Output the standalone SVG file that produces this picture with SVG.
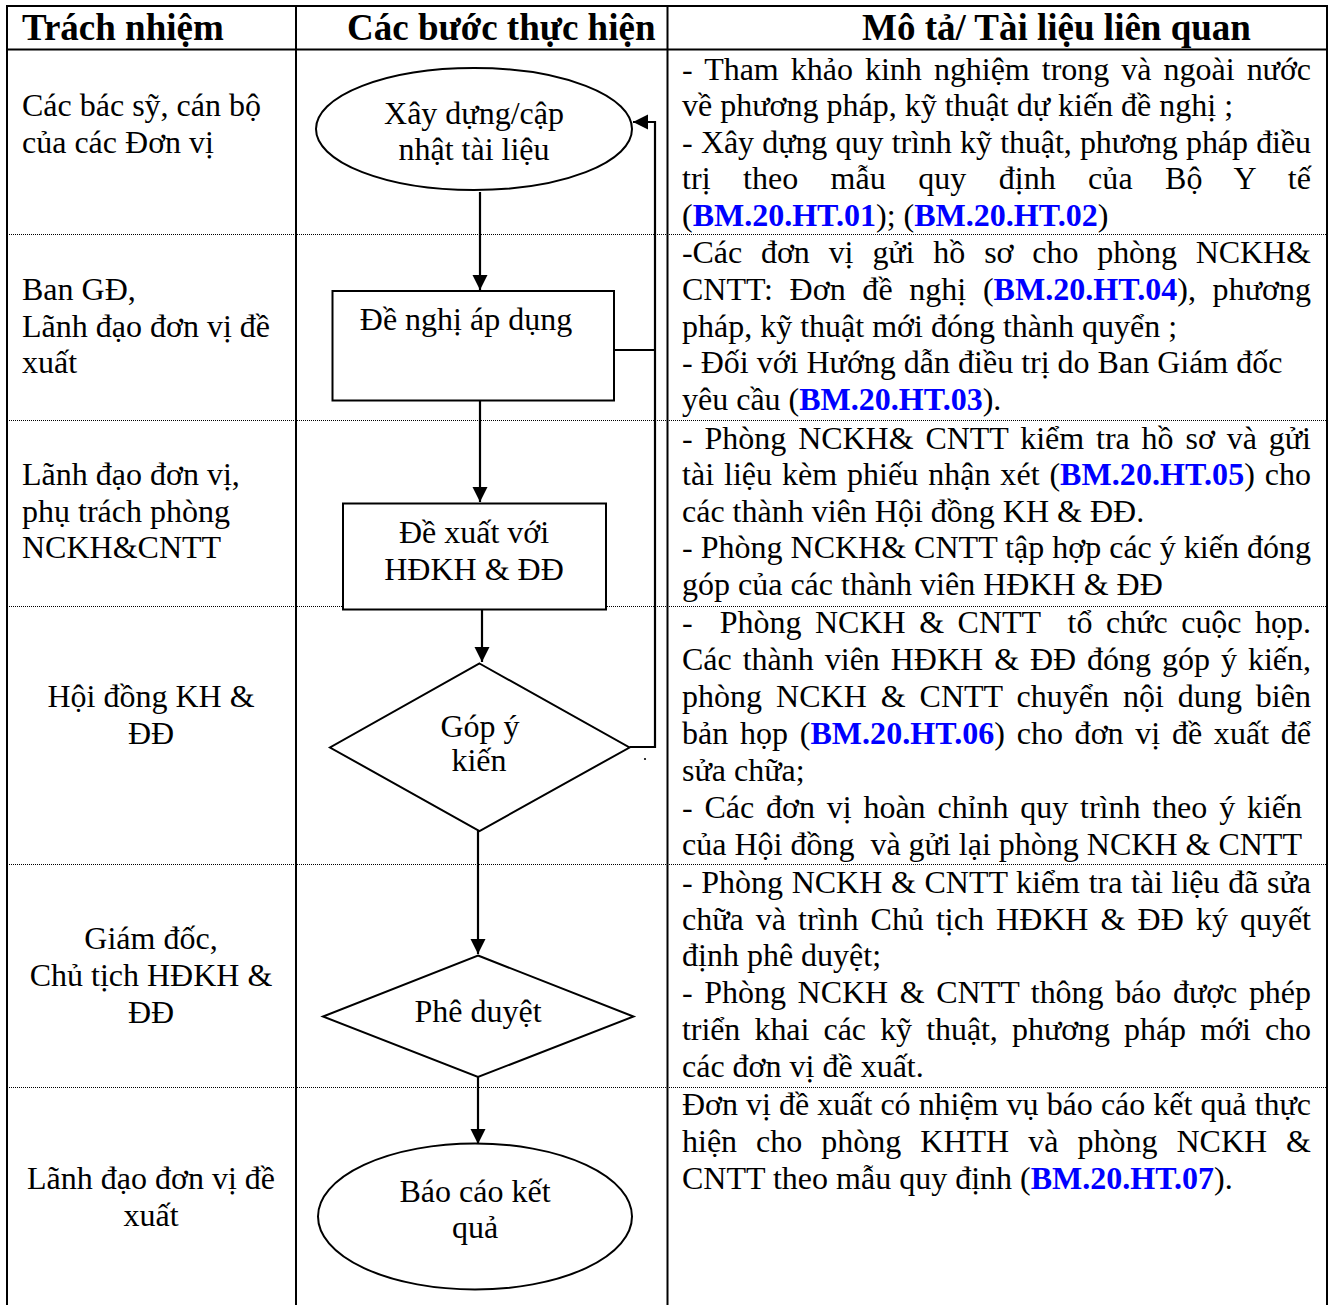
<svg xmlns="http://www.w3.org/2000/svg" width="1332" height="1305" viewBox="0 0 1332 1305">
<style>
text { font-family: "Liberation Serif", "Times New Roman", serif; font-size: 32px; fill: #000; }
.h { font-weight: bold; font-size: 37px; }
.c { text-anchor: middle; }
.code { font-weight: bold; fill: #0000ff; }
.grid { stroke: #000; stroke-width: 2; fill: none; }
.dotted { stroke: #000; stroke-width: 1; stroke-dasharray: 1 1; fill: none; }
.shape { fill: #fff; stroke: #000; stroke-width: 2; }
.conn { stroke: #000; stroke-width: 2.2; fill: none; }
</style>
<defs>
<marker id="ah" markerUnits="userSpaceOnUse" markerWidth="16" markerHeight="16" refX="15" refY="7.5" orient="auto">
<path d="M0,0 L15,7.5 L0,15 z" fill="#000"/>
</marker>
</defs>
<rect width="1332" height="1305" fill="#fff"/>

<g id="table">
<line class="grid" x1="6" y1="6" x2="1328" y2="6"/>
<line class="grid" x1="7" y1="5" x2="7" y2="1305"/>
<line class="grid" x1="1327" y1="5" x2="1327" y2="1305"/>
<line class="grid" x1="296" y1="6" x2="296" y2="1305"/>
<line class="grid" x1="667.5" y1="6" x2="667.5" y2="1305"/>
<line class="grid" x1="7" y1="49.5" x2="1327" y2="49.5"/>
<line class="dotted" x1="7" y1="234.5" x2="1327" y2="234.5"/>
<line class="dotted" x1="7" y1="420.5" x2="1327" y2="420.5"/>
<line class="dotted" x1="7" y1="606.5" x2="1327" y2="606.5"/>
<line class="dotted" x1="7" y1="864.5" x2="1327" y2="864.5"/>
<line class="dotted" x1="7" y1="1087.5" x2="1327" y2="1087.5"/>
</g>

<g id="header">
<text class="h" x="22" y="40">Trách nhiệm</text>
<text class="h" x="347" y="40">Các bước thực hiện</text>
<text class="h" x="862" y="40">Mô tả/ Tài liệu liên quan</text>
</g>

<g id="responsibility">
<text x="22" y="116">Các bác sỹ, cán bộ</text>
<text x="22" y="152.5">của các Đơn vị</text>
<text x="22" y="300">Ban GĐ,</text>
<text x="22" y="336.5">Lãnh đạo đơn vị đề</text>
<text x="22" y="373">xuất</text>
<text x="22" y="485">Lãnh đạo đơn vị,</text>
<text x="22" y="521.5">phụ trách phòng</text>
<text x="22" y="558">NCKH&amp;CNTT</text>
<text class="c" x="151" y="707">Hội đồng KH &amp;</text>
<text class="c" x="151" y="744">ĐĐ</text>
<text class="c" x="151" y="949">Giám đốc,</text>
<text class="c" x="151" y="986">Chủ tịch HĐKH &amp;</text>
<text class="c" x="151" y="1022.5">ĐĐ</text>
<text class="c" x="151" y="1189">Lãnh đạo đơn vị đề</text>
<text class="c" x="151" y="1226">xuất</text>
</g>

<g id="connectors">
<line class="conn" x1="480" y1="192" x2="480" y2="290" marker-end="url(#ah)"/>
<line class="conn" x1="480" y1="401" x2="480" y2="502" marker-end="url(#ah)"/>
<line class="conn" x1="482" y1="609" x2="482" y2="662" marker-end="url(#ah)"/>
<line class="conn" x1="478" y1="831" x2="478" y2="954" marker-end="url(#ah)"/>
<line class="conn" x1="478" y1="1077" x2="478" y2="1144" marker-end="url(#ah)"/>
<line class="conn" x1="614" y1="350" x2="655" y2="350"/>
<polyline class="conn" points="629.5,747 655,747 655,122 633,122" marker-end="url(#ah)"/>
<circle cx="645" cy="759" r="1.1" fill="#000"/>
</g>

<g id="node-xay-dung">
<ellipse class="shape" cx="474" cy="129" rx="158" ry="61"/>
<text class="c" x="474" y="124">Xây dựng/cập</text>
<text class="c" x="474" y="160">nhật tài liệu</text>
</g>

<g id="node-de-nghi">
<rect class="shape" x="332.5" y="291" width="281.5" height="109.5"/>
<text class="c" x="466" y="330">Đề nghị áp dụng</text>
</g>

<g id="node-de-xuat">
<rect class="shape" x="343" y="503.5" width="263" height="106"/>
<text class="c" x="474" y="542.5">Đề xuất với</text>
<text class="c" x="474" y="580">HĐKH &amp; ĐĐ</text>
</g>

<g id="node-gop-y">
<polygon class="shape" points="479.5,663.5 629.5,747.5 479.5,831 330,747.5"/>
<text class="c" x="480" y="737">Góp ý</text>
<text class="c" x="479" y="771">kiến</text>
</g>

<g id="node-phe-duyet">
<polygon class="shape" points="478,955.5 633.5,1016.5 478,1077 323,1016.5"/>
<text class="c" x="478" y="1022">Phê duyệt</text>
</g>

<g id="node-bao-cao">
<ellipse class="shape" cx="475" cy="1216.5" rx="157" ry="73"/>
<text class="c" x="475" y="1202">Báo cáo kết</text>
<text class="c" x="475" y="1238">quả</text>
</g>

<g id="description">
<text x="682" y="79.5" word-spacing="4.2" textLength="629" lengthAdjust="spacing">- Tham khảo kinh nghiệm trong và ngoài nước</text>
<text x="682" y="116">về phương pháp, kỹ thuật dự kiến đề nghị ;</text>
<text x="682" y="152.5" word-spacing="0.4" textLength="629" lengthAdjust="spacing">- Xây dựng quy trình kỹ thuật, phương pháp điều</text>
<text x="682" y="189" word-spacing="24.2" textLength="629" lengthAdjust="spacing">trị theo mẫu quy định của Bộ Y tế</text>
<text x="682" y="225.5">(<tspan class="code">BM.20.HT.01</tspan>); (<tspan class="code">BM.20.HT.02</tspan>)</text>

<text x="682" y="263" word-spacing="11.1" textLength="629" lengthAdjust="spacing">-Các đơn vị gửi hồ sơ cho phòng NCKH&amp;</text>
<text x="682" y="300" word-spacing="8.6" textLength="629" lengthAdjust="spacing">CNTT: Đơn đề nghị (<tspan class="code">BM.20.HT.04</tspan>), phương</text>
<text x="682" y="336.5">pháp, kỹ thuật mới đóng thành quyển ;</text>
<text x="682" y="373">- Đối với Hướng dẫn điều trị do Ban Giám đốc</text>
<text x="682" y="410">yêu cầu (<tspan class="code">BM.20.HT.03</tspan>).</text>

<text x="682" y="448.5" word-spacing="4" textLength="629" lengthAdjust="spacing">- Phòng NCKH&amp; CNTT kiểm tra hồ sơ và gửi</text>
<text x="682" y="485" word-spacing="1.7" textLength="629" lengthAdjust="spacing">tài liệu kèm phiếu nhận xét (<tspan class="code">BM.20.HT.05</tspan>) cho</text>
<text x="682" y="521.5">các thành viên Hội đồng KH &amp; ĐĐ.</text>
<text x="682" y="558" textLength="629" lengthAdjust="spacing">- Phòng NCKH&amp; CNTT tập hợp các ý kiến đóng</text>
<text x="682" y="595">góp của các thành viên HĐKH &amp; ĐĐ</text>

<text x="682" y="633" xml:space="preserve" style="white-space:pre" word-spacing="5.6" textLength="629" lengthAdjust="spacing">-  Phòng NCKH &amp; CNTT  tổ chức cuộc họp.</text>
<text x="682" y="670" word-spacing="2.9" textLength="629" lengthAdjust="spacing">Các thành viên HĐKH &amp; ĐĐ đóng góp ý kiến,</text>
<text x="682" y="707" word-spacing="5.9" textLength="629" lengthAdjust="spacing">phòng NCKH &amp; CNTT chuyển nội dung biên</text>
<text x="682" y="744" word-spacing="3.6" textLength="629" lengthAdjust="spacing">bản họp (<tspan class="code">BM.20.HT.06</tspan>) cho đơn vị đề xuất để</text>
<text x="682" y="780.5">sửa chữa;</text>
<text x="682" y="817.5" word-spacing="3.9" textLength="620" lengthAdjust="spacing">- Các đơn vị hoàn chỉnh quy trình theo ý kiến</text>
<text x="682" y="854.5" xml:space="preserve" style="white-space:pre">của Hội đồng  và gửi lại phòng NCKH &amp; CNTT</text>

<text x="682" y="892.5" word-spacing="0.7" textLength="629" lengthAdjust="spacing">- Phòng NCKH &amp; CNTT kiểm tra tài liệu đã sửa</text>
<text x="682" y="929.5" word-spacing="4.2" textLength="629" lengthAdjust="spacing">chữa và trình Chủ tịch HĐKH &amp; ĐĐ ký quyết</text>
<text x="682" y="966">định phê duyệt;</text>
<text x="682" y="1003" word-spacing="3.7" textLength="629" lengthAdjust="spacing">- Phòng NCKH &amp; CNTT thông báo được phép</text>
<text x="682" y="1040" word-spacing="6.3" textLength="629" lengthAdjust="spacing">triển khai các kỹ thuật, phương pháp mới cho</text>
<text x="682" y="1076.5">các đơn vị đề xuất.</text>

<text x="682" y="1115" word-spacing="0.2" textLength="629" lengthAdjust="spacing">Đơn vị đề xuất có nhiệm vụ báo cáo kết quả thực</text>
<text x="682" y="1152" word-spacing="11" textLength="629" lengthAdjust="spacing">hiện cho phòng KHTH và phòng NCKH &amp;</text>
<text x="682" y="1189">CNTT theo mẫu quy định (<tspan class="code">BM.20.HT.07</tspan>).</text>
</g>
</svg>
